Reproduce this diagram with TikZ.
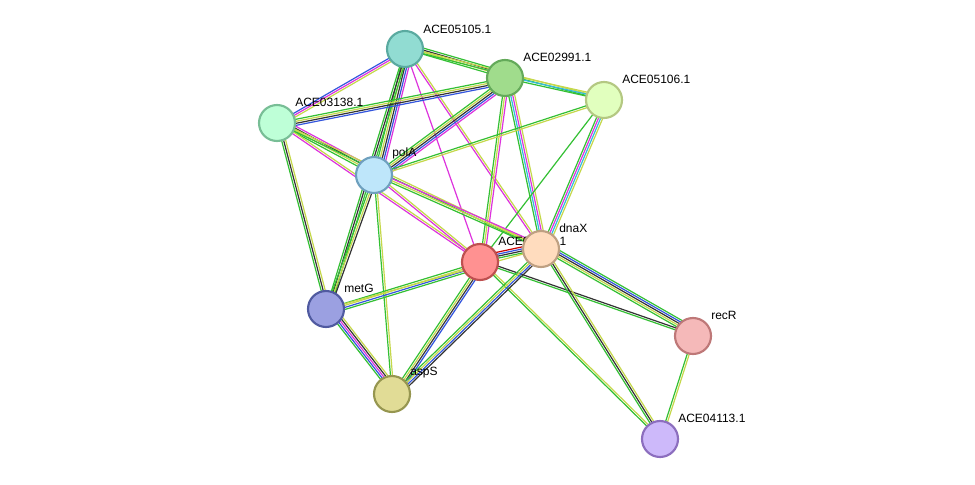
\documentclass[tikz,border=0pt]{standalone}
\usepackage{fontspec}
\setmainfont{Liberation Sans}
\usetikzlibrary{calc}
\definecolor{eg}{HTML}{33C033}
\definecolor{ey}{HTML}{C5D84A}
\definecolor{eb}{HTML}{3355DD}
\definecolor{em}{HTML}{DD33DD}
\definecolor{ek}{HTML}{333333}
\definecolor{ec}{HTML}{33BBDD}
\tikzset{
  prot/.style={circle,minimum size=36pt*0.75,inner sep=0pt,line width=1.6pt},
  lab/.style={font=\fontsize{9pt}{9pt}\selectfont,anchor=south west,inner sep=0pt},
  eline/.style={line width=0.9pt},
}
\newcommand\edgeab[3]{%
  \foreach \c [count=\i] in {#3}{%
    \pgfmathsetmacro\off{(\i-1)*1.5}
    \draw[eline,\c] ($(#1)!\off pt!90:(#2)$) -- ($(#2)!\off pt!-90:(#1)$);
  }}
\begin{document}
\begin{tikzpicture}[x=0.75pt,y=-0.75pt]
\useasboundingbox[fill=white] (0,0) rectangle (975,485);
\coordinate (A) at (405,49);
\coordinate (B) at (505,78);
\coordinate (C) at (604,100);
\coordinate (D) at (277,123);
\coordinate (P) at (374,175);
\coordinate (R) at (480,262);
\coordinate (X) at (541,249);
\coordinate (M) at (326,309);
\coordinate (S) at (392,394);
\coordinate (Q) at (693,336);
\coordinate (T) at (660,439);
\edgeab{A}{B}{eg,ey,ek,eg}
\edgeab{A}{C}{eg,ey}
\edgeab{A}{D}{eb,em,ey}
\edgeab{A}{P}{eg,ey,ek,eb,em}
\edgeab{A}{M}{eg,ek,eg}
\edgeab{A}{R}{em}
\edgeab{A}{X}{em,ey}
\edgeab{B}{D}{eg,ey,ek,eb}
\edgeab{B}{C}{eg,ec,ey}
\edgeab{B}{P}{eg,ey,ek,eb,em}
\edgeab{B}{R}{eg,ey,em}
\edgeab{B}{X}{eg,ec,em,ey}
\edgeab{C}{P}{eg,ey}
\edgeab{C}{R}{eg}
\edgeab{C}{X}{eg,em,ec,ey}
\edgeab{D}{P}{eg,ey,ek,em}
\edgeab{D}{R}{em,ey}
\edgeab{D}{X}{eg,ey}
\edgeab{D}{M}{eg,ek,ey}
\edgeab{P}{R}{em,ey}
\edgeab{P}{X}{eg,ey,em}
\edgeab{P}{M}{eg,ey,ek}
\edgeab{P}{S}{eg,ey}
\edgeab{R}{X}{eg,ek,eb,red!80!black}
\edgeab{R}{M}{eg,ey,eb,eg}
\edgeab{R}{S}{eg,ey,ek,eb}
\edgeab{R}{Q}{eg,ek}
\edgeab{R}{T}{eg,ey}
\edgeab{X}{M}{ey}
\edgeab{X}{S}{eg,ey,eb,ek}
\edgeab{X}{Q}{eg,ey,ek,eb,eg}
\edgeab{X}{T}{eg,ek,ey}
\edgeab{M}{S}{eg,eb,em,ek,ey}
\edgeab{Q}{T}{eg,ey}
\node[lab] (lA) at (423,34) {ACE05105.1};
\node[lab] (lB) at (523,62) {ACE02991.1};
\node[lab] (lC) at (622,84) {ACE05106.1};
\node[lab] (lD) at (295,107) {ACE03138.1};
\node[lab] (lP) at (392,159) {polA};
\node[lab] (lR) at (498,246) {ACE05104.1};
\node[lab] (lX) at (559,233) {dnaX};
\node[lab] (lM) at (344,293) {metG};
\node[lab] (lS) at (410,378) {aspS};
\node[lab] (lQ) at (711,320) {recR};
\node[lab] (lT) at (678,423) {ACE04113.1};
\node[prot,draw={rgb,255:red,90;green,170;blue,160},fill={rgb,255:red,145;green,220;blue,210}] (nA) at (A) {};
\node[prot,draw={rgb,255:red,100;green,170;blue,90},fill={rgb,255:red,160;green,220;blue,140}] (nB) at (B) {};
\node[prot,draw={rgb,255:red,180;green,200;blue,130},fill={rgb,255:red,225;green,255;blue,190}] (nC) at (C) {};
\node[prot,draw={rgb,255:red,120;green,190;blue,150},fill={rgb,255:red,190;green,255;blue,215}] (nD) at (D) {};
\node[prot,draw={rgb,255:red,110;green,160;blue,190},fill={rgb,255:red,190;green,230;blue,250}] (nP) at (P) {};
\node[prot,draw={rgb,255:red,190;green,80;blue,80},fill={rgb,255:red,255;green,145;blue,145}] (nR) at (R) {};
\node[prot,draw={rgb,255:red,190;green,160;blue,130},fill={rgb,255:red,255;green,220;blue,190}] (nX) at (X) {};
\node[prot,draw={rgb,255:red,80;green,90;blue,160},fill={rgb,255:red,155;green,160;blue,225}] (nM) at (M) {};
\node[prot,draw={rgb,255:red,150;green,150;blue,80},fill={rgb,255:red,225;green,220;blue,150}] (nS) at (S) {};
\node[prot,draw={rgb,255:red,190;green,120;blue,120},fill={rgb,255:red,245;green,185;blue,185}] (nQ) at (Q) {};
\node[prot,draw={rgb,255:red,140;green,110;blue,190},fill={rgb,255:red,205;green,185;blue,250}] (nT) at (T) {};
\end{tikzpicture}
\end{document}
